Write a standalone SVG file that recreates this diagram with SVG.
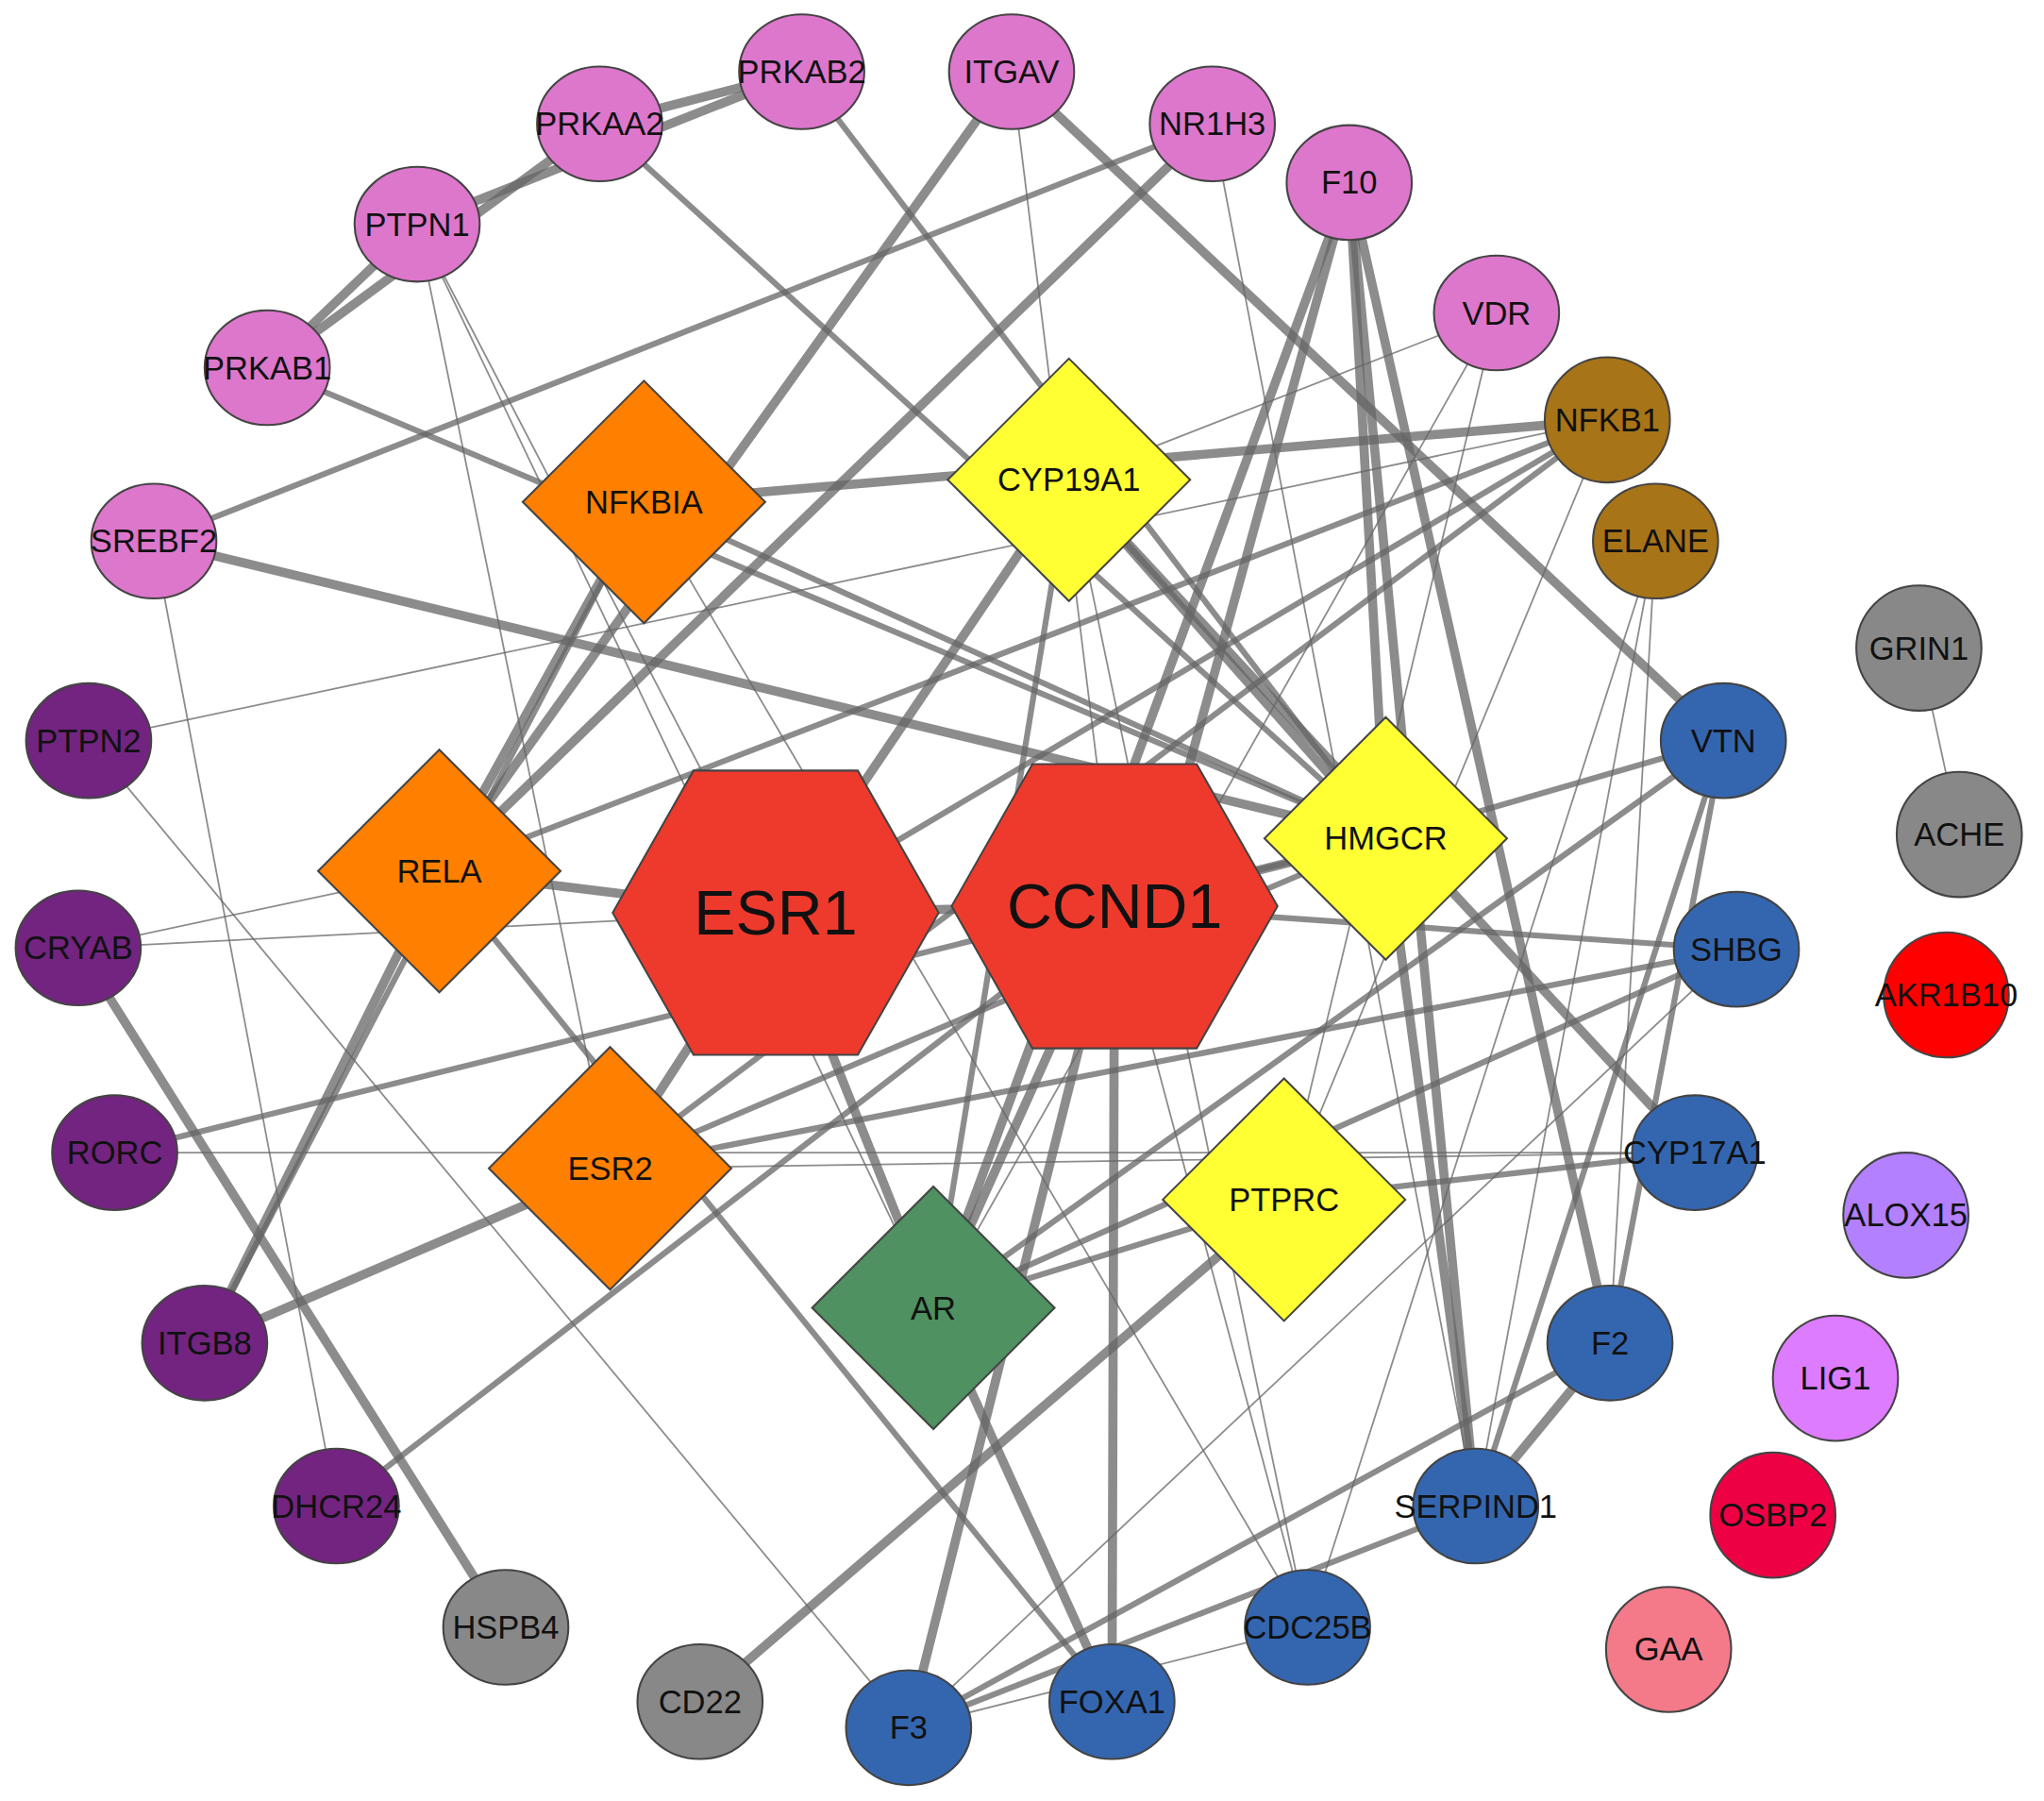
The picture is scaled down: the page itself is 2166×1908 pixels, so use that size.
<svg xmlns="http://www.w3.org/2000/svg" width="2166" height="1908" viewBox="0 0 2166 1908">
<style>
text{font-family:"Liberation Sans",Arial,sans-serif;text-anchor:middle;dominant-baseline:central;fill:#111}
.c text{font-size:25px}
.n{stroke:#444;stroke-width:1.5}
#edges line{stroke:#666;stroke-opacity:0.75;stroke-linecap:round}
.k{stroke-width:7}.m{stroke-width:4.5}.t{stroke-width:1.3}
</style>
<rect width="2166" height="1908" fill="#fff"/>
<g transform="scale(1.3814)">
<g id="edges">
<line class="k" x1="615" y1="55" x2="460" y2="95"/>
<line class="k" x1="615" y1="55" x2="320" y2="172"/>
<line class="k" x1="460" y1="95" x2="205" y2="282"/>
<line class="k" x1="320" y1="172" x2="205" y2="282"/>
<line class="m" x1="615" y1="55" x2="1063" y2="643"/>
<line class="m" x1="460" y1="95" x2="1063" y2="643"/>
<line class="k" x1="776" y1="55" x2="337" y2="668"/>
<line class="k" x1="776" y1="55" x2="1322" y2="568"/>
<line class="t" x1="776" y1="55" x2="855" y2="695"/>
<line class="k" x1="930" y1="95" x2="337" y2="668"/>
<line class="m" x1="930" y1="95" x2="118" y2="415"/>
<line class="t" x1="930" y1="95" x2="1132" y2="1155"/>
<line class="k" x1="1035" y1="140" x2="910" y2="595"/>
<line class="k" x1="1035" y1="140" x2="1235" y2="1030"/>
<line class="k" x1="1035" y1="140" x2="1132" y2="1155"/>
<line class="k" x1="1035" y1="140" x2="1063" y2="643"/>
<line class="k" x1="1035" y1="140" x2="716" y2="1003"/>
<line class="t" x1="1148" y1="240" x2="820" y2="368"/>
<line class="t" x1="1148" y1="240" x2="985" y2="920"/>
<line class="t" x1="1148" y1="240" x2="716" y2="1003"/>
<line class="k" x1="1233" y1="322" x2="494" y2="385"/>
<line class="m" x1="1233" y1="322" x2="337" y2="668"/>
<line class="m" x1="1233" y1="322" x2="595" y2="700"/>
<line class="m" x1="1233" y1="322" x2="468" y2="896"/>
<line class="t" x1="1233" y1="322" x2="68" y2="568"/>
<line class="t" x1="1233" y1="322" x2="985" y2="920"/>
<line class="t" x1="1270" y1="415" x2="1235" y2="1030"/>
<line class="t" x1="1270" y1="415" x2="1132" y2="1155"/>
<line class="t" x1="1270" y1="415" x2="1003" y2="1248"/>
<line class="k" x1="118" y1="415" x2="1063" y2="643"/>
<line class="t" x1="118" y1="415" x2="258" y2="1155"/>
<line class="t" x1="320" y1="172" x2="468" y2="896"/>
<line class="t" x1="320" y1="172" x2="716" y2="1003"/>
<line class="t" x1="320" y1="172" x2="595" y2="700"/>
<line class="m" x1="205" y1="282" x2="1063" y2="643"/>
<line class="k" x1="494" y1="385" x2="337" y2="668"/>
<line class="m" x1="494" y1="385" x2="157" y2="1030"/>
<line class="t" x1="494" y1="385" x2="1003" y2="1248"/>
<line class="m" x1="494" y1="385" x2="1063" y2="643"/>
<line class="k" x1="820" y1="368" x2="595" y2="700"/>
<line class="k" x1="820" y1="368" x2="1063" y2="643"/>
<line class="m" x1="820" y1="368" x2="716" y2="1003"/>
<line class="k" x1="820" y1="368" x2="1300" y2="884"/>
<line class="t" x1="820" y1="368" x2="1003" y2="1248"/>
<line class="k" x1="337" y1="668" x2="595" y2="700"/>
<line class="k" x1="337" y1="668" x2="157" y2="1030"/>
<line class="t" x1="337" y1="668" x2="60" y2="727"/>
<line class="m" x1="337" y1="668" x2="853" y2="1305"/>
<line class="k" x1="595" y1="700" x2="855" y2="695"/>
<line class="k" x1="595" y1="700" x2="468" y2="896"/>
<line class="k" x1="595" y1="700" x2="716" y2="1003"/>
<line class="t" x1="595" y1="700" x2="60" y2="727"/>
<line class="k" x1="855" y1="695" x2="1063" y2="643"/>
<line class="m" x1="855" y1="695" x2="1332" y2="728"/>
<line class="k" x1="855" y1="695" x2="697" y2="1325"/>
<line class="k" x1="855" y1="695" x2="853" y2="1305"/>
<line class="k" x1="855" y1="695" x2="716" y2="1003"/>
<line class="t" x1="855" y1="695" x2="1003" y2="1248"/>
<line class="k" x1="985" y1="920" x2="537" y2="1305"/>
<line class="m" x1="1063" y1="643" x2="1322" y2="568"/>
<line class="k" x1="1063" y1="643" x2="1132" y2="1155"/>
<line class="m" x1="1063" y1="643" x2="468" y2="896"/>
<line class="m" x1="1063" y1="643" x2="88" y2="884"/>
<line class="k" x1="468" y1="896" x2="157" y2="1030"/>
<line class="m" x1="468" y1="896" x2="1332" y2="728"/>
<line class="t" x1="468" y1="896" x2="1300" y2="884"/>
<line class="m" x1="985" y1="920" x2="1300" y2="884"/>
<line class="m" x1="985" y1="920" x2="716" y2="1003"/>
<line class="k" x1="716" y1="1003" x2="853" y2="1305"/>
<line class="m" x1="716" y1="1003" x2="1332" y2="728"/>
<line class="m" x1="716" y1="1003" x2="1322" y2="568"/>
<line class="k" x1="60" y1="727" x2="388" y2="1248"/>
<line class="t" x1="88" y1="884" x2="1300" y2="884"/>
<line class="t" x1="68" y1="568" x2="697" y2="1325"/>
<line class="k" x1="1235" y1="1030" x2="1132" y2="1155"/>
<line class="m" x1="1235" y1="1030" x2="697" y2="1325"/>
<line class="m" x1="1235" y1="1030" x2="1322" y2="568"/>
<line class="m" x1="1132" y1="1155" x2="1322" y2="568"/>
<line class="m" x1="1132" y1="1155" x2="697" y2="1325"/>
<line class="t" x1="697" y1="1325" x2="1003" y2="1248"/>
<line class="t" x1="1472" y1="497" x2="1503" y2="640"/>
<line class="m" x1="258" y1="1155" x2="855" y2="695"/>
<line class="t" x1="1332" y1="728" x2="697" y2="1325"/>
</g>
<g class="c">
<g id="PRKAB2"><ellipse class="n" cx="615" cy="55" rx="48" ry="44" fill="#dd77cc"/><text x="615" y="55">PRKAB2</text></g>
<g id="ITGAV"><ellipse class="n" cx="776" cy="55" rx="48" ry="44" fill="#dd77cc"/><text x="776" y="55">ITGAV</text></g>
<g id="PRKAA2"><ellipse class="n" cx="460" cy="95" rx="48" ry="44" fill="#dd77cc"/><text x="460" y="95">PRKAA2</text></g>
<g id="NR1H3"><ellipse class="n" cx="930" cy="95" rx="48" ry="44" fill="#dd77cc"/><text x="930" y="95">NR1H3</text></g>
<g id="F10"><ellipse class="n" cx="1035" cy="140" rx="48" ry="44" fill="#dd77cc"/><text x="1035" y="140">F10</text></g>
<g id="PTPN1"><ellipse class="n" cx="320" cy="172" rx="48" ry="44" fill="#dd77cc"/><text x="320" y="172">PTPN1</text></g>
<g id="VDR"><ellipse class="n" cx="1148" cy="240" rx="48" ry="44" fill="#dd77cc"/><text x="1148" y="240">VDR</text></g>
<g id="PRKAB1"><ellipse class="n" cx="205" cy="282" rx="48" ry="44" fill="#dd77cc"/><text x="205" y="282">PRKAB1</text></g>
<g id="SREBF2"><ellipse class="n" cx="118" cy="415" rx="48" ry="44" fill="#dd77cc"/><text x="118" y="415">SREBF2</text></g>
<g id="NFKB1"><ellipse class="n" cx="1233" cy="322" rx="48" ry="48" fill="#a87418"/><text x="1233" y="322">NFKB1</text></g>
<g id="ELANE"><ellipse class="n" cx="1270" cy="415" rx="48" ry="44" fill="#a87418"/><text x="1270" y="415">ELANE</text></g>
<g id="GRIN1"><ellipse class="n" cx="1472" cy="497" rx="48" ry="48" fill="#888"/><text x="1472" y="497">GRIN1</text></g>
<g id="ACHE"><ellipse class="n" cx="1503" cy="640" rx="48" ry="48" fill="#888"/><text x="1503" y="640">ACHE</text></g>
<g id="PTPN2"><ellipse class="n" cx="68" cy="568" rx="48" ry="44" fill="#722480"/><text x="68" y="568">PTPN2</text></g>
<g id="CRYAB"><ellipse class="n" cx="60" cy="727" rx="48" ry="44" fill="#722480"/><text x="60" y="727">CRYAB</text></g>
<g id="RORC"><ellipse class="n" cx="88" cy="884" rx="48" ry="44" fill="#722480"/><text x="88" y="884">RORC</text></g>
<g id="ITGB8"><ellipse class="n" cx="157" cy="1030" rx="48" ry="44" fill="#722480"/><text x="157" y="1030">ITGB8</text></g>
<g id="DHCR24"><ellipse class="n" cx="258" cy="1155" rx="48" ry="44" fill="#722480"/><text x="258" y="1155">DHCR24</text></g>
<g id="HSPB4"><ellipse class="n" cx="388" cy="1248" rx="48" ry="44" fill="#888"/><text x="388" y="1248">HSPB4</text></g>
<g id="CD22"><ellipse class="n" cx="537" cy="1305" rx="48" ry="44" fill="#888"/><text x="537" y="1305">CD22</text></g>
<g id="F3"><ellipse class="n" cx="697" cy="1325" rx="48" ry="44" fill="#3466b0"/><text x="697" y="1325">F3</text></g>
<g id="FOXA1"><ellipse class="n" cx="853" cy="1305" rx="48" ry="44" fill="#3466b0"/><text x="853" y="1305">FOXA1</text></g>
<g id="CDC25B"><ellipse class="n" cx="1003" cy="1248" rx="48" ry="44" fill="#3466b0"/><text x="1003" y="1248">CDC25B</text></g>
<g id="SERPIND1"><ellipse class="n" cx="1132" cy="1155" rx="48" ry="44" fill="#3466b0"/><text x="1132" y="1155">SERPIND1</text></g>
<g id="F2"><ellipse class="n" cx="1235" cy="1030" rx="48" ry="44" fill="#3466b0"/><text x="1235" y="1030">F2</text></g>
<g id="CYP17A1"><ellipse class="n" cx="1300" cy="884" rx="48" ry="44" fill="#3466b0"/><text x="1300" y="884">CYP17A1</text></g>
<g id="SHBG"><ellipse class="n" cx="1332" cy="728" rx="48" ry="44" fill="#3466b0"/><text x="1332" y="728">SHBG</text></g>
<g id="VTN"><ellipse class="n" cx="1322" cy="568" rx="48" ry="44" fill="#3466b0"/><text x="1322" y="568">VTN</text></g>
<g id="AKR1B10"><ellipse class="n" cx="1493" cy="763" rx="48" ry="48" fill="#ff0000"/><text x="1493" y="763">AKR1B10</text></g>
<g id="ALOX15"><ellipse class="n" cx="1462" cy="932" rx="48" ry="48" fill="#b380ff"/><text x="1462" y="932">ALOX15</text></g>
<g id="LIG1"><ellipse class="n" cx="1408" cy="1057" rx="48" ry="48" fill="#dd7cff"/><text x="1408" y="1057">LIG1</text></g>
<g id="OSBP2"><ellipse class="n" cx="1360" cy="1162" rx="48" ry="48" fill="#ee0044"/><text x="1360" y="1162">OSBP2</text></g>
<g id="GAA"><ellipse class="n" cx="1280" cy="1265" rx="48" ry="48" fill="#f47a8a"/><text x="1280" y="1265">GAA</text></g>
</g>
<g id="NFKBIA"><polygon class="n" points="494,292 587,385 494,478 401,385" fill="#ff7f00"/><text x="494" y="385" font-size="25">NFKBIA</text></g>
<g id="CYP19A1"><polygon class="n" points="820,275 913,368 820,461 727,368" fill="#ffff33"/><text x="820" y="368" font-size="25">CYP19A1</text></g>
<g id="RELA"><polygon class="n" points="337,575 430,668 337,761 244,668" fill="#ff7f00"/><text x="337" y="668" font-size="25">RELA</text></g>
<g id="HMGCR"><polygon class="n" points="1063,550 1156,643 1063,736 970,643" fill="#ffff33"/><text x="1063" y="643" font-size="25">HMGCR</text></g>
<g id="ESR2"><polygon class="n" points="468,803 561,896 468,989 375,896" fill="#ff7f00"/><text x="468" y="896" font-size="25">ESR2</text></g>
<g id="PTPRC"><polygon class="n" points="985,827 1078,920 985,1013 892,920" fill="#ffff33"/><text x="985" y="920" font-size="25">PTPRC</text></g>
<g id="AR"><polygon class="n" points="716,910 809,1003 716,1096 623,1003" fill="#4f9160"/><text x="716" y="1003" font-size="25">AR</text></g>
<g id="ESR1"><polygon class="n" points="470,700 532,591 658,591 720,700 658,809 532,809" fill="#ee3a2c"/><text x="595" y="700" font-size="48">ESR1</text></g>
<g id="CCND1"><polygon class="n" points="730,695 792,586 918,586 980,695 918,804 792,804" fill="#ee3a2c"/><text x="855" y="695" font-size="48">CCND1</text></g>
</g>
</svg>
